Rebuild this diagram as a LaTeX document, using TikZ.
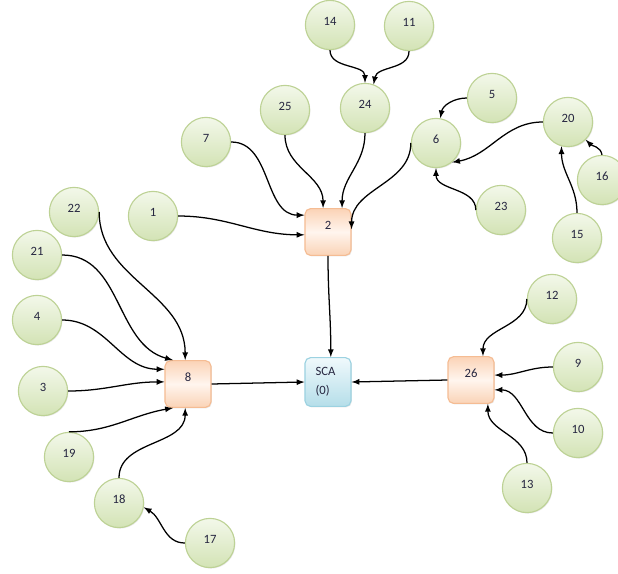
\documentclass[tikz,border=0pt]{standalone}
\usepackage{fontspec}
\setmainfont{Carlito}
\usetikzlibrary{shadows}
\definecolor{leaftop}{HTML}{F3F8EA}
\definecolor{leafbot}{HTML}{D3E3B5}
\definecolor{leafline}{HTML}{BDD295}
\definecolor{hubtop}{HTML}{FBD3B6}
\definecolor{hubmid}{HTML}{FFF5EE}
\definecolor{hubbot}{HTML}{FAD3B6}
\definecolor{hubline}{HTML}{F5BC93}
\definecolor{roottop}{HTML}{F0F9FC}
\definecolor{rootbot}{HTML}{B5DEE9}
\definecolor{rootline}{HTML}{9CD2E1}
\definecolor{labeltext}{HTML}{262640}
\tikzset{
  leaf/.style={circle, draw=leafline, line width=0.8pt, top color=leaftop, bottom color=leafbot,
    minimum size=1.23cm, inner sep=0pt, text=labeltext, font=\fontsize{9pt}{11pt}\selectfont,
    text height=8pt, text depth=8pt,
    drop shadow={opacity=0.18, shadow xshift=0.6pt, shadow yshift=-0.7pt}},
  hub/.style={rectangle, rounded corners=4pt, draw=hubline, line width=0.8pt,
    top color=hubtop, bottom color=hubbot, middle color=hubmid,
    minimum width=1.15cm, minimum height=1.17cm, inner sep=0pt, text=labeltext,
    font=\fontsize{9pt}{11pt}\selectfont, text height=7pt, text depth=11pt,
    drop shadow={opacity=0.18, shadow xshift=0.6pt, shadow yshift=-0.7pt}},
  root/.style={rectangle, rounded corners=4pt, draw=rootline, line width=0.8pt,
    top color=roottop, bottom color=rootbot,
    minimum width=1.15cm, minimum height=1.22cm, inner sep=0pt, text=labeltext,
    font=\fontsize{9pt}{13.5pt}\selectfont, align=left, text width=0.62cm,
    drop shadow={opacity=0.18, shadow xshift=0.6pt, shadow yshift=-0.7pt}},
  feed/.style={-latex, line width=0.9pt}
}
\begin{document}
\begin{tikzpicture}[x=0.025cm, y=-0.025cm]
            \useasboundingbox (0,0) rectangle (618,573);
            \node[root] (sca) at (328,382) {SCA\\(0)};
            \node[hub] (h2) at (328,232) {2};
            \node[hub] (h8) at (188,384) {8};
            \node[hub] (h26) at (471,380) {26};
            \node[leaf] (c14) at (330,25) {14};
            \node[leaf] (c11) at (409,26) {11};
            \node[leaf] (c25) at (285,110) {25};
            \node[leaf] (c24) at (365,108) {24};
            \node[leaf] (c7) at (206,142) {7};
            \node[leaf] (c6) at (436,143) {6};
            \node[leaf] (c5) at (492,98) {5};
            \node[leaf] (c20) at (568,122) {20};
            \node[leaf] (c16) at (602,180) {16};
            \node[leaf] (c23) at (501,210) {23};
            \node[leaf] (c15) at (577,238) {15};
            \node[leaf] (c22) at (74,212) {22};
            \node[leaf] (c1) at (153,216) {1};
            \node[leaf] (c21) at (37,255) {21};
            \node[leaf] (c4) at (37,320) {4};
            \node[leaf] (c3) at (43,391) {3};
            \node[leaf] (c19) at (69,457) {19};
            \node[leaf] (c18) at (119,503) {18};
            \node[leaf] (c17) at (210,543) {17};
            \node[leaf] (c12) at (552,299) {12};
            \node[leaf] (c9) at (578,367) {9};
            \node[leaf] (c10) at (578,433) {10};
            \node[leaf] (c13) at (527,488) {13};
            \draw[feed] (h2.south) to[out=-90,in=90] ([xshift=2pt]sca.north);
            \draw[feed] (h8.east) -- (sca.west);
            \draw[feed] (h26.west) -- (sca.east);
            \draw[feed] (c1.east) to[out=0,in=180] ([yshift=-2pt]h2.west);
            \draw[feed] (c7.east) to[out=0,in=180] ([yshift=12pt]h2.west);
            \draw[feed] (c25.south) to[out=-90,in=90] ([xshift=-3.5pt]h2.north);
            \draw[feed] (c24.south) to[out=-90,in=90] ([xshift=10pt]h2.north);
            \draw[feed] (c6.west) to[out=-90,in=90] ([yshift=2pt]h2.east);
            \draw[feed] (c14.south) to[out=-90,in=90] (c24.north);
            \draw[feed] (c11.south) to[out=-90,in=80] (c24.70);
            \draw[feed] (c5.west) to[out=180,in=80] (c6.80);
            \draw[feed] (c20.west) to[out=180,in=10] (c6.-50);
            \draw[feed] (c23.west) to[out=90,in=-90] (c6.south);
            \draw[feed] (c15.north) to[out=90,in=-90] (c20.-105);
            \draw[feed] (c16.north) to[out=100,in=-45] (c20.-45);
            \draw[feed] (c22.east) to[out=-90,in=90] ([xshift=-2pt]h8.north);
            \draw[feed] (c21.east) to[out=0,in=165] ([xshift=6pt]h8.north west);
            \draw[feed] (c4.east) to[out=0,in=180] ([yshift=10.5pt]h8.west);
            \draw[feed] (c3.east) to[out=0,in=180] ([yshift=1.5pt]h8.west);
            \draw[feed] (c19.north) to[out=0,in=190] ([xshift=6pt]h8.south west);
            \draw[feed] (c18.north) to[out=90,in=-90] ([xshift=-2pt]h8.south);
            \draw[feed] (c17.west) to[out=180,in=-30] (c18.-10);
            \draw[feed] (c12.west) to[out=-90,in=90] ([xshift=8.5pt]h26.north);
            \draw[feed] (c9.west) to[out=180,in=0] ([yshift=3.5pt]h26.east);
            \draw[feed] (c10.west) to[out=180,in=0] ([yshift=-7pt]h26.east);
            \draw[feed] (c13.north) to[out=90,in=-90] ([xshift=12pt]h26.south);
        \end{tikzpicture}
\end{document}
